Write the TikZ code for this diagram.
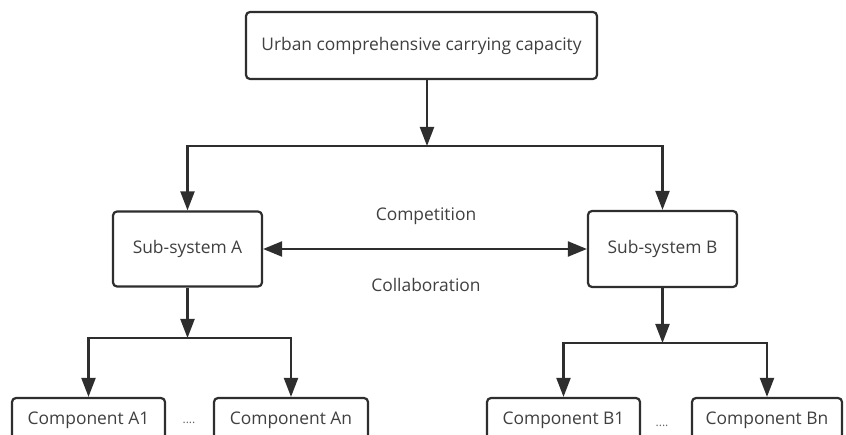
\documentclass[tikz,border=0pt]{standalone}
\usepackage{fontspec}
\setmainfont{Open Sans}
\usetikzlibrary{arrows.meta}
\definecolor{linegray}{HTML}{2E2E2E}
\definecolor{textgray}{HTML}{404040}
\tikzset{
  box/.style={draw=linegray, line width=2.2pt, rounded corners=4pt, fill=white,
    text=textgray, font=\fontsize{17.4}{20}\selectfont, inner sep=0pt},
  lbl/.style={text=textgray, font=\fontsize{17.4}{20}\selectfont, inner sep=0pt},
  dots/.style={text=textgray!80, font=\fontsize{12}{14}\selectfont, inner sep=0pt},
  arr/.style={draw=linegray, line width=2.2pt, -{Triangle[length=19pt,width=14pt]}},
  link/.style={draw=linegray, line width=2.2pt}
}

\begin{document}
\begin{tikzpicture}[x=1pt,y=-1pt]
		%%%%% START %%%%%
		\useasboundingbox (0,0) rectangle (846,435);
		\clip (0,0) rectangle (846,435);
		
		\node[box, minimum width=351pt, minimum height=67pt] (ucc) at (421.5,45.5) {Urban comprehensive carrying capacity};
		
		\node[box, minimum width=149pt, minimum height=75pt] (subA) at (187.5,249) {Sub-system A};
		\node[box, minimum width=149pt, minimum height=76pt] (subB) at (662.5,249) {Sub-system B};
		
		\node[box, minimum width=153pt, minimum height=44pt] (compA1) at (88.5,420) {Component A1};
		\node[box, minimum width=154pt, minimum height=44pt] (compAn) at (291,420) {Component An};
		\node[box, minimum width=153pt, minimum height=44pt] (compB1) at (563.5,420) {Component B1};
		\node[box, minimum width=150pt, minimum height=44pt] (compBn) at (767,420) {Component Bn};
		
		\node[dots] (dotsA) at (189,423) {....};
		\node[dots] (dotsB) at (662,426) {....};
		
		\node[lbl] (compet) at (426,216) {Competition};
		\node[lbl] (collab) at (426,285) {Collaboration};
		
		% top split
		\coordinate (jTop) at (427,146);
		\draw[arr] (jTop |- ucc.south) -- (jTop);
		\draw[arr] (jTop) -| (subA.north);
		\draw[arr] (jTop) -| (subB.north);
		
		% competition / collaboration
		\draw[link, {Triangle[length=19pt,width=15pt]}-{Triangle[length=19pt,width=15pt]}] (subA.east) -- (subB.west);
		
		% sub-system A split
		\coordinate (jA) at (187.5,338);
		\draw[arr] (subA.south) -- (jA);
		\draw[arr] (jA) -| (compA1.north);
		\draw[arr] (jA) -| (compAn.north);
		
		% sub-system B split
		\coordinate (jB) at (662.5,343);
		\draw[arr] (subB.south) -- (jB);
		\draw[arr] (jB) -| (compB1.north);
		\draw[arr] (jB) -| (compBn.north);
		%%%%% END %%%%%
	\end{tikzpicture}
\end{document}
